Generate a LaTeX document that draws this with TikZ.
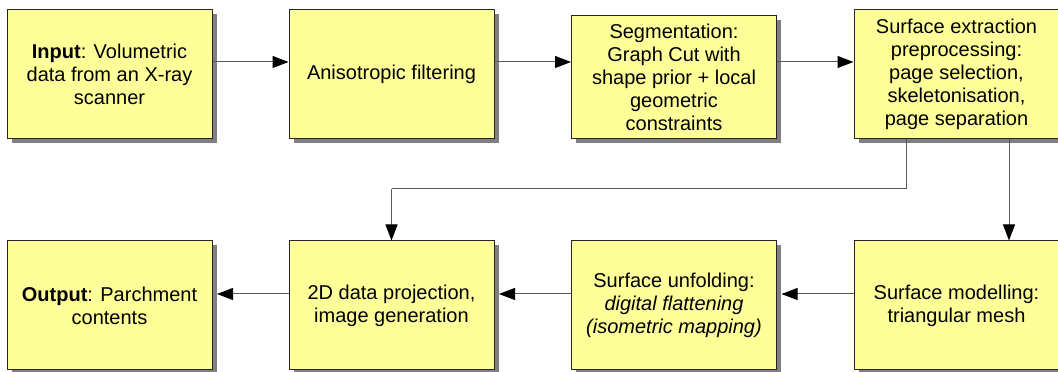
\documentclass[tikz,border=0pt]{standalone}
\usepackage{fontspec}
\setmainfont{Liberation Sans}
\usetikzlibrary{arrows.meta,shadows}
\definecolor{boxfill}{RGB}{255,255,153}
\definecolor{shadowgray}{RGB}{128,128,128}
\definecolor{linegray}{RGB}{90,90,90}
\tikzset{
  stepbox/.style={draw=black!85, line width=1pt, fill=boxfill, rectangle,
    minimum width=205pt, minimum height=129pt, inner sep=0pt, align=center,
    font=\fontsize{20pt}{23pt}\selectfont,
    drop shadow={shadow xshift=4.5pt, shadow yshift=-4.5pt, fill=shadowgray, opacity=1}},
  arr/.style={draw=linegray, line width=1pt, -{Triangle[length=16pt,width=12pt,fill=black,color=black]}},
  conn/.style={draw=linegray, line width=1pt}
}
\begin{document}
\begin{tikzpicture}[x=1pt,y=1pt]
\useasboundingbox (0,0) rectangle (1058,372);
% top row
\node[stepbox] (b1) at (109.5,298) {\textbf{Input}: Volumetric\\data from an X-ray\\scanner};
\node[stepbox] (b2) at (391.5,298) {Anisotropic filtering};
\node[stepbox, minimum height=123pt] (b3) at (674,295) {Segmentation:\\Graph Cut with\\shape prior + local\\geometric\\constraints};
\node[stepbox] (b4) at (956.5,298) {Surface extraction\\preprocessing:\\page selection,\\skeletonisation,\\page separation};
% bottom row
\node[stepbox] (b5) at (109.5,66.5) {\textbf{Output}: Parchment\\contents};
\node[stepbox] (b6) at (391.5,66.5) {2D data projection,\\image generation};
\node[stepbox] (b7) at (674,66.5) {Surface unfolding:\\\textit{digital flattening}\\\textit{(isometric mapping)}};
\node[stepbox] (b8) at (956.5,66.5) {Surface modelling:\\triangular mesh};
% helper coordinates
\coordinate (t1) at (906,183);
\coordinate (t2) at (391.5,183);
% connectors top row
\draw[arr] (b1.east |- 0,310) -- (b2.west |- 0,310);
\draw[arr] (b2.east |- 0,310) -- (b3.west |- 0,310);
\draw[arr] (b3.east |- 0,310) -- (b4.west |- 0,310);
% down connectors
\draw[conn] (b4.south -| t1) -- (t1) -- (t2);
\draw[arr] (t2) -- (b6.north);
\draw[arr] (b4.south -| 1009,0) -- (b8.north -| 1009,0);
% bottom row (tips stop at the shadow edge)
\draw[arr] (b8.west |- 0,78) -- ([xshift=4.5pt]b7.east |- 0,78);
\draw[arr] (b7.west |- 0,78) -- ([xshift=4.5pt]b6.east |- 0,78);
\draw[arr] (b6.west |- 0,78) -- ([xshift=4.5pt]b5.east |- 0,78);
\end{tikzpicture}
\end{document}
